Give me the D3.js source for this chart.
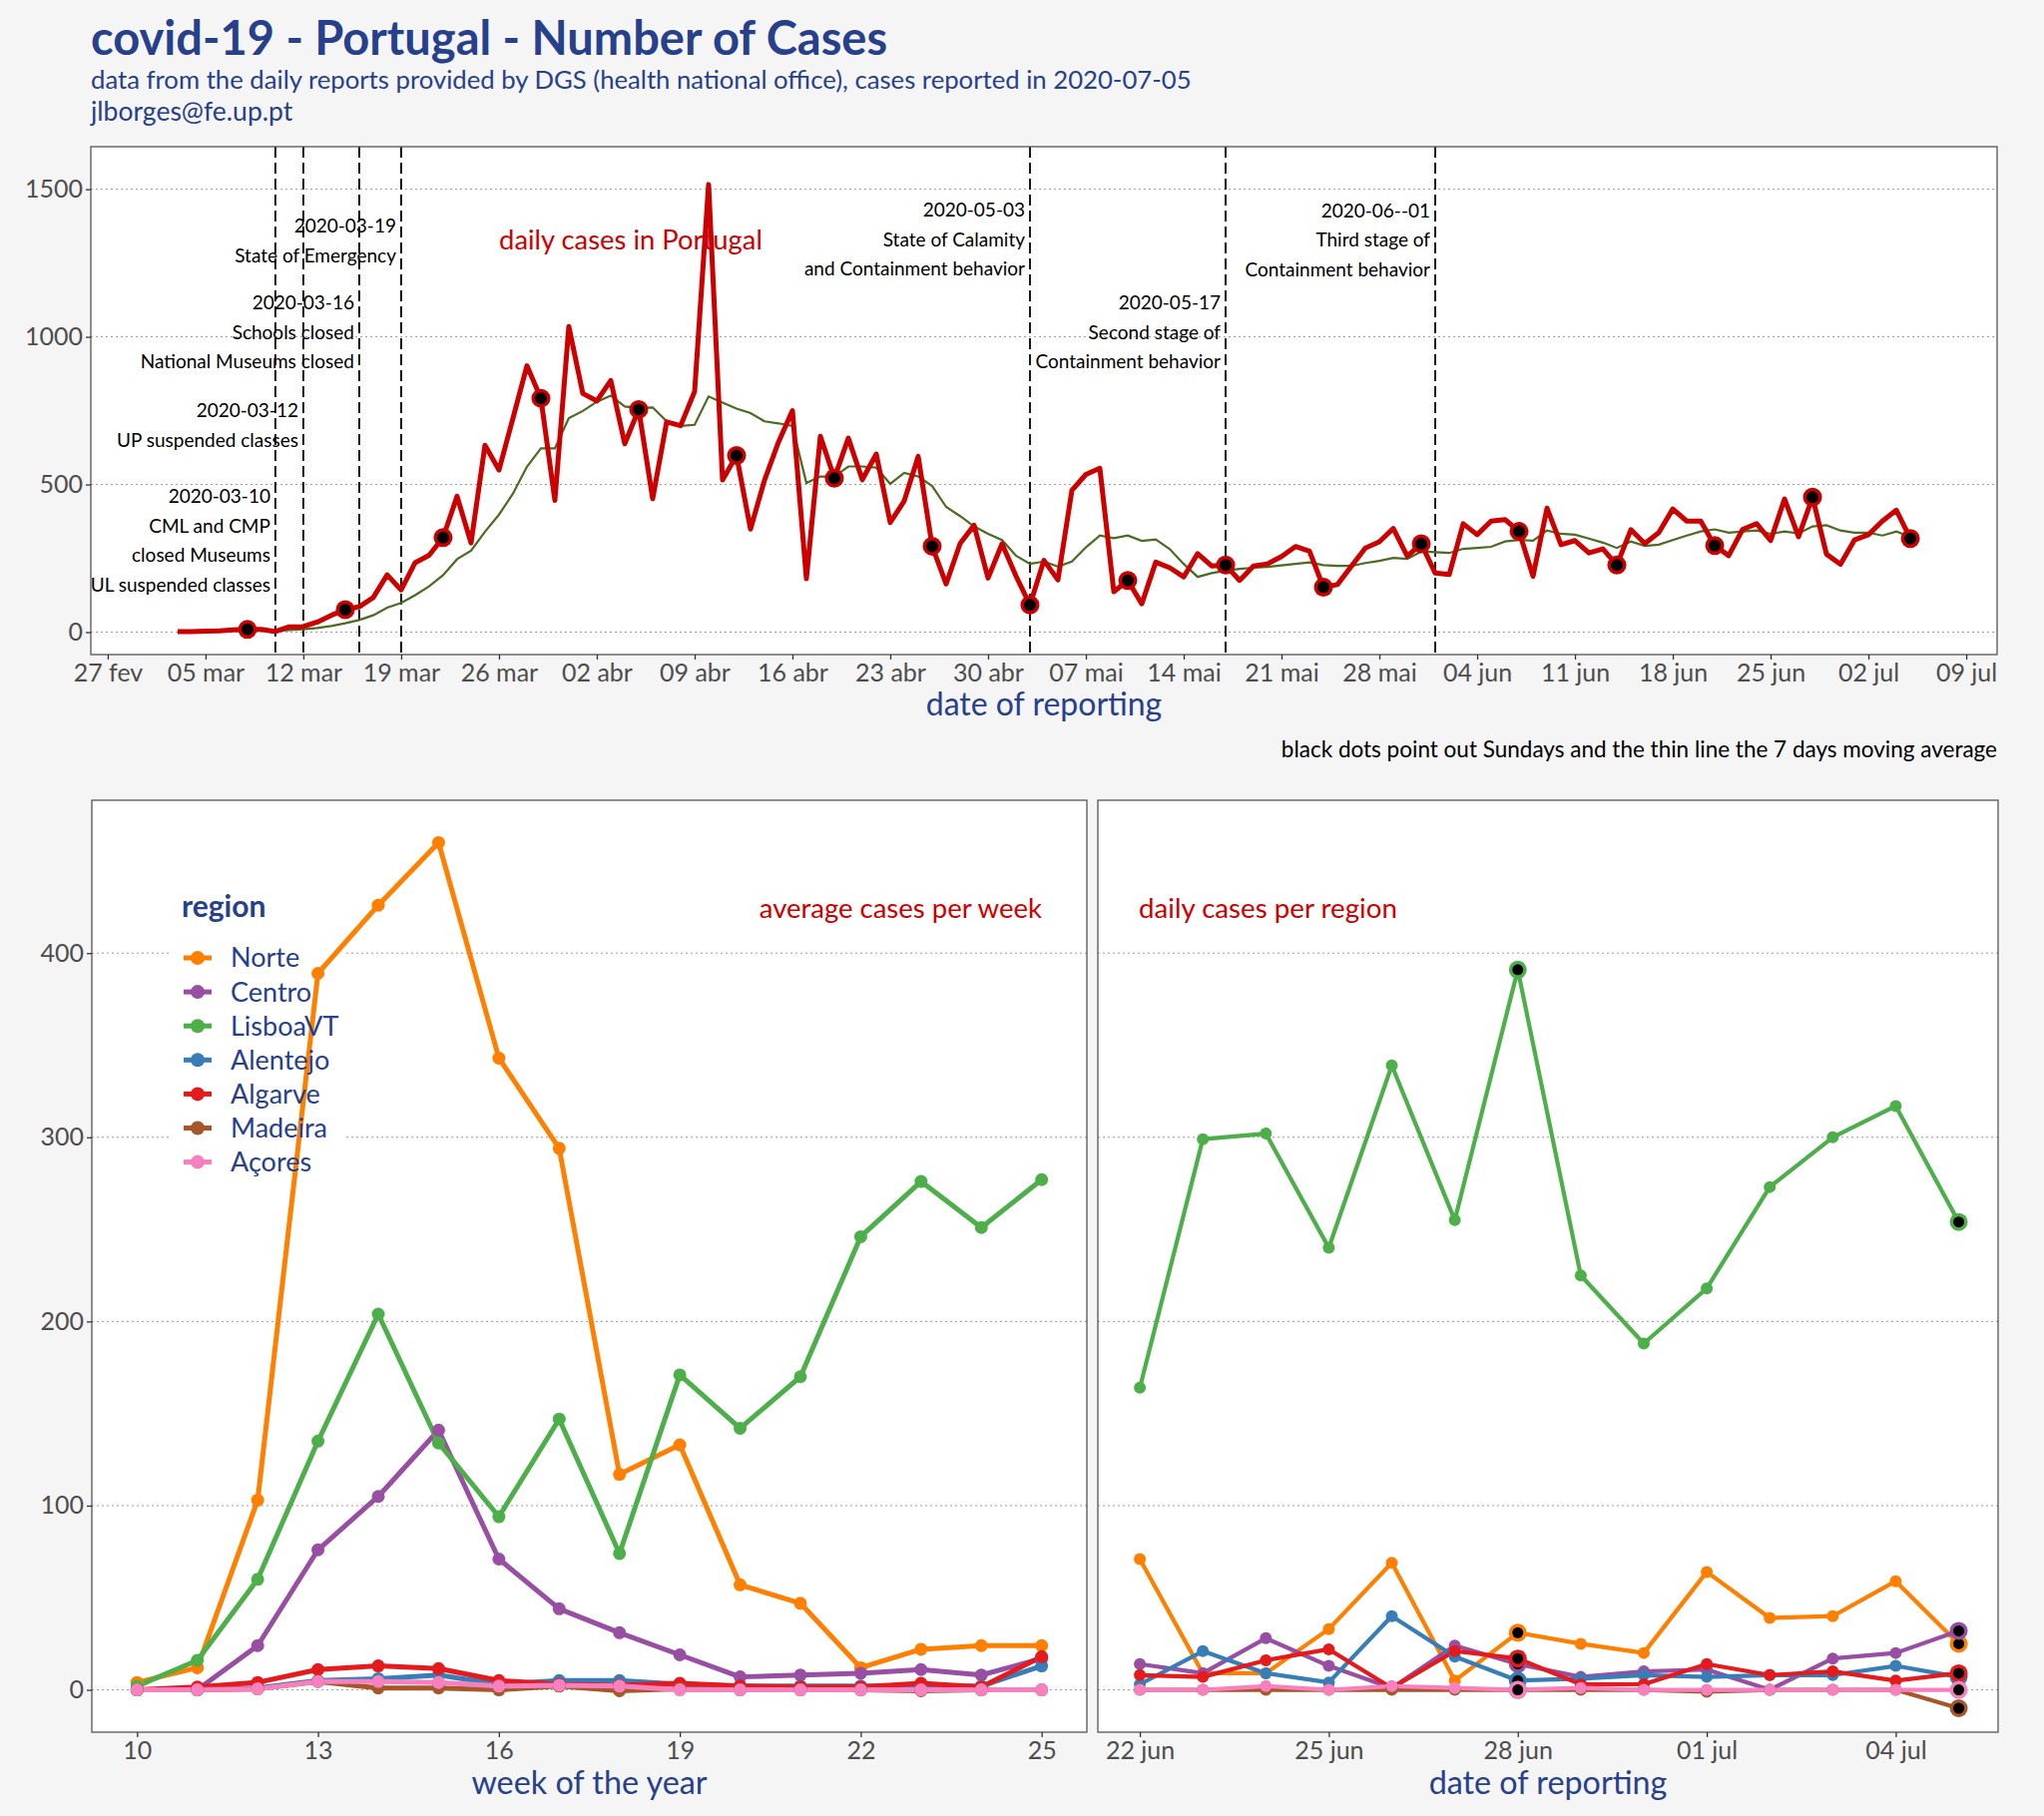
<!DOCTYPE html>
<html>
<head>
<meta charset="utf-8">
<title>covid-19 - Portugal - Number of Cases</title>
<script src="https://cdn.jsdelivr.net/npm/d3@7"></script>
<style>
  body { margin: 0; background: #f5f5f5; }
  svg { display: block; font-family: Lato, "Open Sans", sans-serif; }
</style>
</head>
<body>
<script>
// ---------------- data ----------------
var monthsPt = ["jan", "fev", "mar", "abr", "mai", "jun", "jul", "ago", "set", "out", "nov", "dez"];

// daily cases in Portugal, from 2020-03-03 to 2020-07-05
var dailyStart = "2020-03-03";
var dailyCases = [
  2, 2, 3, 4, 8, 9, 9, 2, 18, 19, 34, 57, 76, 86, 117, 194, 143, 235, 260, 320, 460, 302, 633, 549, 724, 902, 792, 446, 1035,
  808, 783, 852, 638, 754, 452, 712, 699, 815, 1516, 515, 598, 349, 514, 643, 750, 181, 663, 521, 657, 516, 603, 371, 444, 595, 291, 163, 300, 362, 183,
  299, 190, 92, 243, 177, 480, 534, 555, 137, 175, 96, 237, 218, 187, 266, 224, 227, 175, 224, 231, 256, 290, 274, 152, 161, 223, 285, 306, 351, 257, 299,
  200, 195, 367, 330, 376, 381, 341, 189, 420, 296, 310, 268, 282, 227, 347, 300, 337, 417, 376, 376, 293, 259, 348, 367, 310, 451, 323, 457, 264, 230,
  312, 330, 376, 413, 317
];

// 7 days moving average, from 2020-03-09
var avgStart = "2020-03-09";
var movingAvg = [
  5, 5, 7, 10, 14, 21, 30, 41, 57, 83, 99, 125, 155, 193, 247, 276, 340, 398, 469, 560, 622, 622, 725,
  749, 780, 801, 764, 759, 761, 714, 698, 702, 798, 777, 757, 742, 714, 707, 698, 505, 527, 527, 561, 561, 557, 502, 539, 527, 495, 424, 393, 358, 333,
  312, 259, 231, 239, 222, 239, 287, 327, 318, 327, 309, 314, 281, 231, 187, 200, 208, 214, 218, 221, 226, 231, 236, 227, 224, 224, 234, 241, 251, 248, 273,
  271, 268, 282, 285, 289, 307, 312, 310, 344, 333, 330, 317, 303, 285, 307, 292, 296, 312, 327, 341, 348, 337, 341, 344, 333, 341, 334, 358, 362, 344,
  337, 337, 327, 341, 323
];

// events (dashed lines) and their labels
var eventDates = ["2020-03-10", "2020-03-12", "2020-03-16", "2020-03-19", "2020-05-03", "2020-05-17", "2020-06-01"];
var eventLabels = [
  ["2020-03-10", "CML and CMP", "closed Museums", "UL suspended classes"],
  ["2020-03-12", "UP suspended classes"],
  ["2020-03-16", "Schools closed", "National Museums closed"],
  ["2020-03-19", "State of Emergency"],
  ["2020-05-03", "State of Calamity", "and Containment behavior"],
  ["2020-05-17", "Second stage of", "Containment behavior"],
  ["2020-06--01", "Third stage of", "Containment behavior"]
];
var eventLabelValue = [460, 750, 1115, 1375, 1430, 1115, 1428];

var topYTicks = [0, 500, 1000, 1500];

// regions
var regions = ["Norte", "Centro", "LisboaVT", "Alentejo", "Algarve", "Madeira", "Açores"];
var regionColors = ["#FF7F00", "#984EA3", "#4DAF4A", "#377EB8", "#E41A1C", "#A65628", "#F781BF"];

// average cases per week, weeks 10..25
var weeks = [10, 11, 12, 13, 14, 15, 16, 17, 18, 19, 20, 21, 22, 23, 24, 25];
var weekNorte    = [4, 12, 103, 389, 426, 460, 343, 294, 117, 133, 57, 47, 12, 22, 24, 24];
var weekCentro   = [0, 0, 24, 76, 105, 141, 71, 44, 31, 19, 7, 8, 9, 11, 8, 17];
var weekLisboaVT = [2, 16, 60, 135, 204, 134, 94, 147, 74, 171, 142, 170, 246, 276, 251, 277];
var weekAlentejo = [0, 0, 1, 5, 6, 8, 3, 5, 5, 3, 2, 2, 2, 2, 2, 13];
var weekAlgarve  = [0, 1.5, 4, 11, 13, 11.5, 5, 3, 2.5, 3.5, 2, 1.5, 1.5, 3.5, 1.5, 18];
var weekMadeira  = [0, 0, 0.5, 4.5, 1, 1, 0, 2, -0.5, 0.5, 0, 0, 0, -0.5, 0, 0];
var weekAcores   = [0, 0, 0.5, 4.5, 4.5, 4, 2, 2.5, 2, 0, 0, 0, 0, 0, 0, 0];
var weekTicks = [10, 13, 16, 19, 22, 25];

// daily cases per region, 2020-06-22 .. 2020-07-05
var regionDays = ["2020-06-22", "2020-06-23", "2020-06-24", "2020-06-25", "2020-06-26", "2020-06-27", "2020-06-28",
                  "2020-06-29", "2020-06-30", "2020-07-01", "2020-07-02", "2020-07-03", "2020-07-04", "2020-07-05"];
var dayNorte    = [71, 9, 9, 33, 69, 5, 31, 25, 20, 64, 39, 40, 59, 25];
var dayCentro   = [14, 9, 28, 13, 1, 24, 14, 7, 10, 11, 0, 17, 20, 32];
var dayLisboaVT = [164, 299, 302, 240, 339, 255, 391, 225, 188, 218, 273, 300, 317, 254];
var dayAlentejo = [3, 21, 9, 4, 40, 18, 5, 6, 8, 7, 8, 8, 13, 7];
var dayAlgarve  = [8, 7, 16, 22, 1, 21, 17, 3, 3, 14, 8, 10, 5, 9];
var dayMadeira  = [0, 0, 0, 0, 0, 0, 0, 0, 0, -1, 0, 0, 0, -10];
var dayAcores   = [0, 0, 2, 0, 2, 1, 0, 1, 0, 0, 0, 0, 0, 0];
var dayTicks = ["2020-06-22", "2020-06-25", "2020-06-28", "2020-07-01", "2020-07-04"];

var bottomYTicks = [0, 100, 200, 300, 400];

// ---------------- helpers ----------------
var W = 2048, H = 1820;
var blue = "#27408B", red = "#CD0000", tickGray = "#4d4d4d";

function day(s) { return new Date(s + "T00:00:00Z"); }
function series(start, values) {
  return values.map(function (v, i) { return {date: d3.utcDay.offset(day(start), i), value: v}; });
}
function ptDate(d) { return d3.utcFormat("%d")(d) + " " + monthsPt[d.getUTCMonth()]; }
function isSunday(d) { return d.date.getUTCDay() === 0; }

var svg = d3.select("body").append("svg").attr("width", W).attr("height", H);
svg.append("rect").attr("width", W).attr("height", H).attr("fill", "#f5f5f5");

function panelBg(p) {
  svg.append("rect").attr("x", p.l).attr("y", p.t).attr("width", p.r - p.l).attr("height", p.b - p.t).attr("fill", "#fff");
}
function panelBorder(p) {
  svg.append("rect").attr("x", p.l).attr("y", p.t).attr("width", p.r - p.l).attr("height", p.b - p.t)
    .attr("fill", "none").attr("stroke", "#555").attr("stroke-width", 1.3);
}
function grid(p, y, ticks) {
  svg.append("g").selectAll("line").data(ticks).enter().append("line")
    .attr("x1", p.l).attr("x2", p.r)
    .attr("y1", function (d) { return y(d); }).attr("y2", function (d) { return y(d); })
    .attr("stroke", "#9a9a9a").attr("stroke-width", 1).attr("stroke-dasharray", "2,3");
}
function styleAxis(g, size) {
  g.select(".domain").remove();
  g.selectAll(".tick line").attr("stroke", "#333").attr("stroke-width", 1.3);
  g.selectAll(".tick text").attr("fill", tickGray).attr("font-size", size).attr("font-family", "Lato, 'Open Sans', sans-serif");
}

// ---------------- titles ----------------
svg.append("text").attr("x", 91).attr("y", 55).attr("fill", blue)
  .attr("font-size", 47).attr("font-weight", 700).text("covid-19 - Portugal - Number of Cases");
svg.append("text").attr("x", 91).attr("y", 89).attr("fill", blue).attr("font-size", 25.7)
  .text("data from the daily reports provided by DGS (health national office), cases reported in 2020-07-05");
svg.append("text").attr("x", 91).attr("y", 121).attr("fill", blue).attr("font-size", 26.5).text("jlborges@fe.up.pt");

// ---------------- top panel ----------------
var pTop = {l: 91, r: 2001, t: 147, b: 656};
var daily = series(dailyStart, dailyCases);
var avg = series(avgStart, movingAvg);

var xTop = d3.scaleUtc()
  .domain([d3.utcHour.offset(daily[0].date, -149), d3.utcHour.offset(daily[daily.length - 1].date, 149)])
  .range([pTop.l, pTop.r]);
var yTop = d3.scaleLinear().domain([-76, 1644]).range([pTop.b, pTop.t]);

panelBg(pTop);
grid(pTop, yTop, topYTicks);

// event labels
eventDates.forEach(function (ds, i) {
  var t = svg.append("text").attr("font-size", 19).attr("fill", "#000").attr("text-anchor", "end");
  eventLabels[i].forEach(function (line, j) {
    t.append("tspan").attr("x", xTop(day(ds)) - 5)
      .attr("y", yTop(eventLabelValue[i]) + j * 29.6).attr("dy", "0.35em").text(line);
  });
});

svg.append("text").attr("x", 632).attr("y", 240).attr("dy", "0.35em").attr("text-anchor", "middle")
  .attr("font-size", 27.4).attr("fill", red).text("daily cases in Portugal");

// dashed event lines
svg.append("g").selectAll("line").data(eventDates).enter().append("line")
  .attr("x1", function (d) { return xTop(day(d)); }).attr("x2", function (d) { return xTop(day(d)); })
  .attr("y1", pTop.t).attr("y2", pTop.b)
  .attr("stroke", "#000").attr("stroke-width", 1.8).attr("stroke-dasharray", "11,5");

var lineTop = d3.line().x(function (d) { return xTop(d.date); }).y(function (d) { return yTop(d.value); });

svg.append("path").datum(avg).attr("d", lineTop)
  .attr("fill", "none").attr("stroke", "#4a6b22").attr("stroke-width", 2.2);
svg.append("path").datum(daily).attr("d", lineTop)
  .attr("fill", "none").attr("stroke", red).attr("stroke-width", 5).attr("stroke-linejoin", "round");

var sundays = daily.filter(isSunday);
svg.append("g").selectAll("circle").data(sundays).enter().append("circle")
  .attr("cx", function (d) { return xTop(d.date); }).attr("cy", function (d) { return yTop(d.value); })
  .attr("r", 9.5).attr("fill", red);
svg.append("g").selectAll("circle").data(sundays).enter().append("circle")
  .attr("cx", function (d) { return xTop(d.date); }).attr("cy", function (d) { return yTop(d.value); })
  .attr("r", 6).attr("fill", "#000");

panelBorder(pTop);

var topXTicks = d3.range(0, 20).map(function (i) { return d3.utcDay.offset(day("2020-02-27"), 7 * i); });
var gx = svg.append("g").attr("transform", "translate(0," + pTop.b + ")")
  .call(d3.axisBottom(xTop).tickValues(topXTicks).tickFormat(ptDate).tickSize(5).tickPadding(4));
styleAxis(gx, 25);
var gy = svg.append("g").attr("transform", "translate(" + pTop.l + ",0)")
  .call(d3.axisLeft(yTop).tickValues(topYTicks).tickFormat(d3.format("d")).tickSize(5).tickPadding(3));
styleAxis(gy, 25);

svg.append("text").attr("x", (pTop.l + pTop.r) / 2).attr("y", 717).attr("text-anchor", "middle")
  .attr("font-size", 32).attr("fill", blue).text("date of reporting");
svg.append("text").attr("x", 2001).attr("y", 751).attr("dy", "0.35em").attr("text-anchor", "end")
  .attr("font-size", 22.5).attr("fill", "#000").text("black dots point out Sundays and the thin line the 7 days moving average");

// ---------------- bottom panels ----------------
var weekSeries = [weekNorte, weekCentro, weekLisboaVT, weekAlentejo, weekAlgarve, weekMadeira, weekAcores];
var daySeries = [dayNorte, dayCentro, dayLisboaVT, dayAlentejo, dayAlgarve, dayMadeira, dayAcores];

var weekTable = regions.map(function (r, k) {
  return {region: r, color: regionColors[k], values: weeks.map(function (w, i) { return {x: w, value: weekSeries[k][i]}; })};
});
var dayTable = regions.map(function (r, k) {
  return {region: r, color: regionColors[k], values: regionDays.map(function (d, i) { return {x: day(d), value: daySeries[k][i]}; })};
});

var pBL = {l: 92, r: 1089, t: 802, b: 1736};
var pBR = {l: 1100, r: 2002, t: 802, b: 1736};

var xWeek = d3.scaleLinear().domain([9.25, 25.75]).range([pBL.l, pBL.r]);
var xDay = d3.scaleUtc()
  .domain([d3.utcHour.offset(day(regionDays[0]), -15.6), d3.utcHour.offset(day(regionDays[regionDays.length - 1]), 15.6)])
  .range([pBR.l, pBR.r]);
var yBot = d3.scaleLinear().domain([-23, 483]).range([pBL.b, pBL.t]);

// left: weekly averages
panelBg(pBL);
grid(pBL, yBot, bottomYTicks);

// legend box hides gridlines under it
svg.append("rect").attr("x", 172).attr("y", 886).attr("width", 172).attr("height", 298).attr("fill", "#fff");

var lineWeek = d3.line().x(function (d) { return xWeek(d.x); }).y(function (d) { return yBot(d.value); });
svg.append("g").selectAll("path").data(weekTable).enter().append("path")
  .attr("d", function (d) { return lineWeek(d.values); })
  .attr("fill", "none").attr("stroke", function (d) { return d.color; })
  .attr("stroke-width", 5).attr("stroke-linejoin", "round");
weekTable.forEach(function (s) {
  svg.append("g").selectAll("circle").data(s.values).enter().append("circle")
    .attr("cx", function (d) { return xWeek(d.x); }).attr("cy", function (d) { return yBot(d.value); })
    .attr("r", 6.5).attr("fill", s.color);
});

svg.append("text").attr("x", 1044).attr("y", 910).attr("dy", "0.35em").attr("text-anchor", "end")
  .attr("font-size", 27.5).attr("fill", red).text("average cases per week");

// legend
svg.append("text").attr("x", 182).attr("y", 919).attr("font-size", 30).attr("font-weight", 700)
  .attr("fill", blue).text("region");
var leg = svg.append("g").selectAll("g").data(regions).enter().append("g")
  .attr("transform", function (d, i) { return "translate(0," + (960 + i * 34.1) + ")"; });
leg.append("line").attr("x1", 184).attr("x2", 212).attr("stroke", function (d, i) { return regionColors[i]; })
  .attr("stroke-width", 5);
leg.append("circle").attr("cx", 198).attr("r", 7).attr("fill", function (d, i) { return regionColors[i]; });
leg.append("text").attr("x", 231).attr("dy", "0.35em").attr("font-size", 27).attr("fill", blue)
  .text(function (d) { return d; });

panelBorder(pBL);

var gxw = svg.append("g").attr("transform", "translate(0," + pBL.b + ")")
  .call(d3.axisBottom(xWeek).tickValues(weekTicks).tickFormat(d3.format("d")).tickSize(5).tickPadding(4));
styleAxis(gxw, 25);
var gyb = svg.append("g").attr("transform", "translate(" + pBL.l + ",0)")
  .call(d3.axisLeft(yBot).tickValues(bottomYTicks).tickFormat(d3.format("d")).tickSize(5).tickPadding(3));
styleAxis(gyb, 25);
svg.append("text").attr("x", (pBL.l + pBL.r) / 2).attr("y", 1798).attr("text-anchor", "middle")
  .attr("font-size", 32.3).attr("fill", blue).text("week of the year");

// right: daily per region
panelBg(pBR);
grid(pBR, yBot, bottomYTicks);

var lineDay = d3.line().x(function (d) { return xDay(d.x); }).y(function (d) { return yBot(d.value); });
svg.append("g").selectAll("path").data(dayTable).enter().append("path")
  .attr("d", function (d) { return lineDay(d.values); })
  .attr("fill", "none").attr("stroke", function (d) { return d.color; })
  .attr("stroke-width", 4.2).attr("stroke-linejoin", "round");
dayTable.forEach(function (s) {
  svg.append("g").selectAll("circle").data(s.values).enter().append("circle")
    .attr("cx", function (d) { return xDay(d.x); }).attr("cy", function (d) { return yBot(d.value); })
    .attr("r", 6).attr("fill", s.color);
});
dayTable.forEach(function (s) {
  var sun = s.values.filter(function (d) { return d.x.getUTCDay() === 0; });
  var g = svg.append("g");
  g.selectAll("circle.o").data(sun).enter().append("circle")
    .attr("cx", function (d) { return xDay(d.x); }).attr("cy", function (d) { return yBot(d.value); })
    .attr("r", 9).attr("fill", s.color);
  g.selectAll("circle.i").data(sun).enter().append("circle")
    .attr("cx", function (d) { return xDay(d.x); }).attr("cy", function (d) { return yBot(d.value); })
    .attr("r", 5.5).attr("fill", "#000");
});

svg.append("text").attr("x", 1141).attr("y", 910).attr("dy", "0.35em")
  .attr("font-size", 27.7).attr("fill", red).text("daily cases per region");

panelBorder(pBR);

var gxd = svg.append("g").attr("transform", "translate(0," + pBR.b + ")")
  .call(d3.axisBottom(xDay).tickValues(dayTicks.map(day)).tickFormat(ptDate).tickSize(5).tickPadding(4));
styleAxis(gxd, 25);
svg.append("text").attr("x", (pBR.l + pBR.r) / 2).attr("y", 1798).attr("text-anchor", "middle")
  .attr("font-size", 32.3).attr("fill", blue).text("date of reporting");
</script>
</body>
</html>
